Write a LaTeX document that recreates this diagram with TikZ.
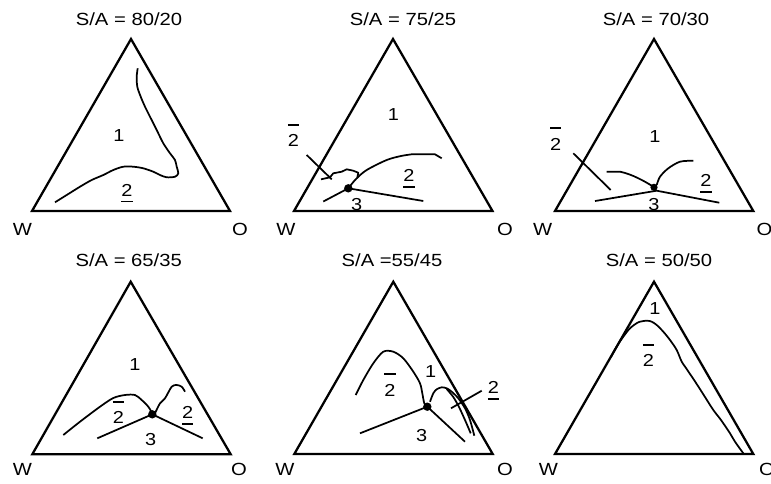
\documentclass[tikz,border=0pt]{standalone}
\usepackage{fontspec}
\setmainfont{Liberation Sans}[FakeStretch=1.15]
\newcommand{\obar}[1]{\rlap{\rule[1.2em]{0.64em}{1.3pt}}#1}
\newcommand{\ubar}[1]{\rlap{\rule[-0.36em]{0.64em}{1.3pt}}#1}
\begin{document}
\begin{tikzpicture}[x=0.75pt,y=0.75pt,yscale=-1,xscale=1,
	lbl/.style={anchor=base,inner sep=0.75pt,font=\fontsize{13}{15}\selectfont},
	ttl/.style={anchor=base,inner sep=0.75pt,font=\fontsize{13.2}{15}\selectfont},
	tri/.style={line width=1.7pt,line join=miter},
	crv/.style={line width=1.3pt,line join=round}]
			\useasboundingbox (0,0) rectangle (771,483);
			
			%Shape: Triangle S/A = 80/20
			\draw [tri] (32,211) -- (131,39) -- (230,211) -- cycle ;
			%Curve Lines
			\draw [crv] plot [smooth,tension=0.5] coordinates {(137.7,68.3) (136.7,76.7) (137.3,86.7) (140.7,96.7) (145,106.7) (150,116.7) (156.7,130) (163.3,143.3) (170,153.3) (175,160) (176.7,166.7) (178.3,173.3) (175,176.7) (166.7,177.3) (160,175) (153.3,171.7) (143.3,168.3) (133.3,166.7) (123.3,166.7) (113.3,170) (103.3,175) (91.7,180) (80,186.7) (66.7,195) (55,202.3)} ;
			% Text Node
			\node [ttl] (ttlA) at (129,25) {S/A = 80/20};
			\node [ttl] (wA) at (22.5,235) {W};
			\node [ttl] (oA) at (240,235) {O};
			\node [lbl] (oneA) at (119,141.7) {1};
			\node [lbl] (twoA) at (127,196) {\ubar{2}};
			
			%Shape: Triangle S/A = 75/25
			\draw [tri] (294,211) -- (393,39) -- (492.5,211) -- cycle ;
			%Curve Lines
			\draw [crv] plot [smooth,tension=0.5] coordinates {(348.3,188.3) (356,179) (366.7,170) (386.7,160) (401,156) (411.7,154.3)} -- (435,154.3) -- (441.7,158.3) ;
			\draw [crv] (321,179.3) -- (330,177.3) -- (333.3,173.3) -- (341.7,171.7) -- (346.7,169.3) -- (353.3,170.7) -- (358.3,172.7) -- (357.3,177.5) ;
			%Straight Lines
			\draw [crv] (323.3,201.5) -- (348.3,188.3) -- (423.3,201) ;
			\draw [crv] (306.7,155) -- (331.7,179.3) ;
			\fill (348.3,188.3) circle (4.2) ;
			% Text Node
			\node [ttl] (ttlB) at (403,25) {S/A = 75/25};
			\node [ttl] (wB) at (286,235) {W};
			\node [ttl] (oB) at (505,235) {O};
			\node [lbl] (oneB) at (393.3,120) {1};
			\node [lbl] (barB) at (293.3,146.7) {\obar{2}};
			\node [lbl] (twoB) at (409,181.7) {\ubar{2}};
			\node [lbl] (threeB) at (356.7,210.5) {3};
			
			%Shape: Triangle S/A = 70/30
			\draw [tri] (555,211) -- (654,39) -- (753.3,211) -- cycle ;
			%Curve Lines
			\draw [crv] (606.7,171.7) -- (620,171.7) .. controls (632,174) and (646,182) .. (653.3,186.7) ;
			\draw [crv] plot [smooth,tension=0.5] coordinates {(656.7,185) (660,176.7) (668.3,168.3) (680,161.7) (693.3,160.7)} ;
			%Straight Lines
			\draw [crv] (595,201) -- (656.7,190.7) -- (719.3,202.7) ;
			\draw [crv] (573.3,153.3) -- (610.7,190) ;
			\fill (654,187.3) circle (3.6) ;
			% Text Node
			\node [ttl] (ttlC) at (656,25) {S/A = 70/30};
			\node [ttl] (wC) at (542.7,235) {W};
			\node [ttl] (oC) at (764.5,235) {O};
			\node [lbl] (oneC) at (655,142.7) {1};
			\node [lbl] (barC) at (555.7,150) {\obar{2}};
			\node [lbl] (twoC) at (706,186.7) {\ubar{2}};
			\node [lbl] (threeC) at (654,210) {3};
			
			%Shape: Triangle S/A = 65/35
			\draw [tri] (32.3,454.3) -- (130.7,281.7) -- (230.7,454.3) -- cycle ;
			%Curve Lines
			\draw [crv] plot [smooth,tension=0.5] coordinates {(63.3,435) (80,421.7) (100,406.7) (113.3,398) (125,395) (135,395) (141.7,400) (148.3,406.7) (152.3,413.3)} ;
			\draw [crv] plot [smooth,tension=0.5] coordinates {(155,413.3) (160,403.3) (165,398.3) (171.7,386.7) (176.7,385) (181.7,386.7) (185,391.7)} ;
			%Straight Lines
			\draw [crv] (97.3,438.3) -- (152.3,414.3) -- (202.7,438.3) ;
			\fill (152.3,414.3) circle (4.2) ;
			% Text Node
			\node [ttl] (ttlD) at (128.7,266) {S/A = 65/35};
			\node [ttl] (wD) at (22.5,475.5) {W};
			\node [ttl] (oD) at (239,475.5) {O};
			\node [lbl] (oneD) at (135,370) {1};
			\node [lbl] (barD) at (118.3,423.3) {\obar{2}};
			\node [lbl] (twoD) at (187.7,418.3) {\ubar{2}};
			\node [lbl] (threeD) at (150.7,445) {3};
			
			%Shape: Triangle S/A = 55/45
			\draw [tri] (294.3,454) -- (393.3,281.7) -- (492.7,454) -- cycle ;
			%Curve Lines
			\draw [crv] plot [smooth,tension=0.5] coordinates {(355.7,395) (363.3,380) (373.3,363.3) (383.3,351.7) (393.3,351.7) (403.3,358.3) (413.3,371.7) (420,383.3) (422.3,393.3) (424.3,403.3) (427.3,406.7)} ;
			\draw [crv] plot [smooth,tension=0.5] coordinates {(430,401.7) (433.3,393.3) (436.7,389.3) (441.7,387.3) (446.7,388.3) (451.7,391.7) (458.3,398.3) (465,408.3) (470,420) (474.3,435.7)} ;
			\draw [crv] plot [smooth,tension=0.5] coordinates {(446.7,389) (453.3,397) (459,407) (465,420) (470.7,433.3)} ;
			%Straight Lines
			\draw [crv] (360,433.3) -- (427.3,406.7) -- (465,441.7) ;
			\draw [crv] (451,408.3) -- (481.7,390.7) ;
			\fill (427.3,406.7) circle (4.2) ;
			% Text Node
			\node [ttl] (ttlE) at (392,266) {S/A =55/45};
			\node [ttl] (wE) at (285,475.5) {W};
			\node [ttl] (oE) at (505,475.5) {O};
			\node [lbl] (oneE) at (430.7,377.3) {1};
			\node [lbl] (barE) at (390,396) {\obar{2}};
			\node [lbl] (twoE) at (493.3,393.3) {\ubar{2}};
			\node [lbl] (threeE) at (421.7,441.7) {3};
			
			%Shape: Triangle S/A = 50/50
			\draw [tri] (555,454) -- (654,281.7) -- (753.3,454) -- cycle ;
			%Curve Lines
			\draw [crv] plot [smooth,tension=0.5] coordinates {(611,357) (617,346) (623.3,336.7) (630,328.3) (638.3,322.3) (646.7,320.7) (651.7,321.7) (656.7,325) (663.3,331.7) (670,340) (676.7,350) (681.7,361.7) (686,368) (696.7,384) (705,397) (713.3,410) (721,420) (730,433.3) (735,441.7) (743.3,453.3)} ;
			% Text Node
			\node [ttl] (ttlF) at (659,266) {S/A = 50/50};
			\node [ttl] (wF) at (548.3,475.5) {W};
			\node [ttl] (oF) at (767,475.5) {O};
			\node [lbl] (oneF) at (655,314) {1};
			\node [lbl] (barF) at (648.3,366.7) {\obar{2}};
		\end{tikzpicture}
\end{document}
